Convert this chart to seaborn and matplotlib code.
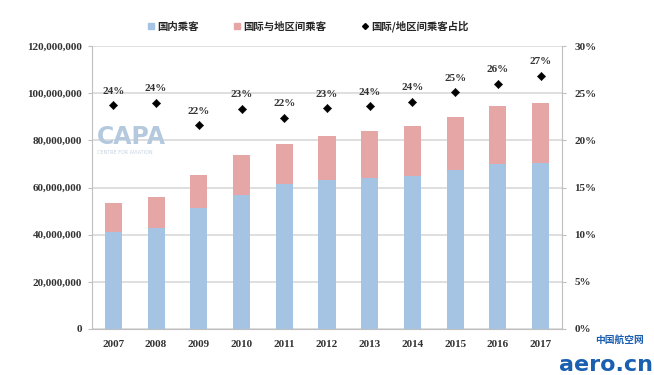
import pandas as pd
import seaborn as sns
import matplotlib.pyplot as plt
from matplotlib.ticker import FuncFormatter, MultipleLocator
from matplotlib.lines import Line2D

years = ['2007', '2008', '2009', '2010', '2011', '2012', '2013', '2014', '2015', '2016', '2017']
domestic = [41.0, 42.7, 51.3, 56.8, 61.4, 63.2, 63.9, 65.0, 67.4, 70.0, 70.3]  # millions
total = [53.6, 55.8, 65.3, 73.9, 78.6, 81.8, 84.0, 86.2, 90.0, 94.6, 96.0]  # millions
intl_share = [23.7, 24.0, 21.6, 23.3, 22.4, 23.4, 23.6, 24.1, 25.1, 26.0, 26.8]  # %
share_labels = ['24%', '24%', '22%', '23%', '22%', '23%', '24%', '24%', '25%', '26%', '27%']

sns.set_style('white')
plt.rcParams['font.family'] = ['Liberation Serif', 'Noto Sans CJK SC', 'DejaVu Sans']

blue = '#a5c3e2'
pink = '#e6a6a6'
grid_c = '#d9d9d9'

df = pd.DataFrame({'year': years, 'domestic': [v * 1e6 for v in domestic],
                   'total': [v * 1e6 for v in total], 'share': intl_share})

fig = plt.figure(figsize=(6.54, 3.75), dpi=100)
ax = fig.add_axes([0.1407, 0.1227, 0.7186, 0.7546])

sns.barplot(data=df, x='year', y='total', color=pink, width=0.4, saturation=1,
            linewidth=0, ax=ax, zorder=2)
sns.barplot(data=df, x='year', y='domestic', color=blue, width=0.4, saturation=1,
            linewidth=0, ax=ax, zorder=3)

ax.set_xlim(-0.5, len(years) - 0.5)
ax.set_ylim(0, 120e6)
ax.yaxis.set_major_locator(MultipleLocator(20e6))
ax.yaxis.set_major_formatter(FuncFormatter(lambda v, p: f'{int(v):,}'))
ax.grid(axis='y', color=grid_c, linewidth=1.2, zorder=0)
ax.set_axisbelow(True)
ax.set_xlabel('')
ax.set_ylabel('')
for s in ['top', 'right']:
    ax.spines[s].set_visible(False)
ax.spines['left'].set_color('#bfbfbf')
ax.spines['bottom'].set_color('#bfbfbf')
ax.tick_params(axis='y', labelsize=8, colors='#333333', length=3, color='#bfbfbf', pad=4)
ax.tick_params(axis='x', labelsize=8, colors='#333333', length=0, pad=8)
for lab in ax.get_xticklabels() + ax.get_yticklabels():
    lab.set_fontweight('bold')
# small boundary ticks between categories
ax.set_xticks([i + 0.5 for i in range(len(years) - 1)], minor=True)
ax.tick_params(axis='x', which='minor', length=3, color='#bfbfbf')

ax2 = ax.twinx()
sns.scatterplot(data=df, x='year', y='share', marker='D', color='black', s=18,
                edgecolor='black', ax=ax2, zorder=4, legend=False)
ax2.set_ylim(0, 30)
ax2.set_xlim(-0.5, len(years) - 0.5)
ax2.yaxis.set_major_locator(MultipleLocator(5))
ax2.yaxis.set_major_formatter(FuncFormatter(lambda v, p: f'{int(v)}%'))
ax2.set_ylabel('')
for s in ['top', 'left', 'bottom']:
    ax2.spines[s].set_visible(False)
ax2.spines['right'].set_color('#bfbfbf')
ax2.tick_params(axis='y', labelsize=8, colors='#333333', length=3, color='#bfbfbf', pad=6)
for lab in ax2.get_yticklabels():
    lab.set_fontweight('bold')
for i, (v, t) in enumerate(zip(intl_share, share_labels)):
    ax2.annotate(t, (i, v), xytext=(0, 7), textcoords='offset points', ha='center',
                 va='bottom', fontsize=8, fontweight='bold', color='#333333')

# watermarks
ax.text(0.01, 0.655, 'CAPA', transform=ax.transAxes, fontsize=17, fontweight='bold',
        color='#b4c9de', family=['DejaVu Sans'], zorder=1)
ax.text(0.01, 0.62, 'CENTRE FOR AVIATION', transform=ax.transAxes, fontsize=3.5,
        color='#c5d3e0', family=['DejaVu Sans'], zorder=1)
fig.text(0.91, 0.085, '中国航空网', fontsize=7, fontweight='bold', color='#1a5fb0',
         family=['Noto Sans CJK SC'])
fig.text(0.855, 0.01, 'aero.cn', fontsize=16, fontweight='bold', color='#1a5fb0',
         family=['DejaVu Sans'])

handles = [
    Line2D([], [], marker='s', linestyle='', color=blue, markersize=4),
    Line2D([], [], marker='s', linestyle='', color=pink, markersize=4),
    Line2D([], [], marker='D', linestyle='', color='black', markersize=3),
]
fig.legend(handles, ['国内乘客', '国际与地区间乘客', '国际/地区间乘客占比'],
           loc='center', bbox_to_anchor=(0.47, 0.93), ncol=3, frameon=False,
           prop={'family': ['Noto Sans CJK SC'], 'weight': 'bold', 'size': 7.5},
           handletextpad=0.1, columnspacing=3.2, handlelength=1)

fig.savefig('out.png', dpi=100)
